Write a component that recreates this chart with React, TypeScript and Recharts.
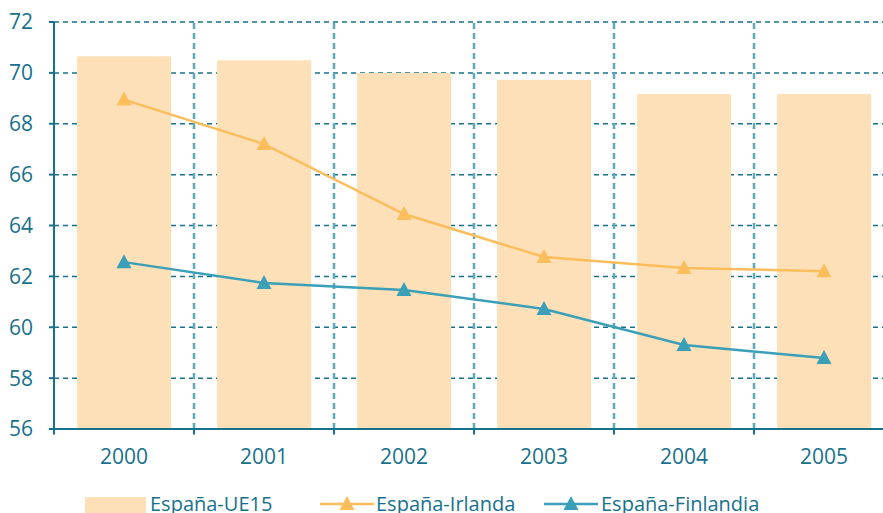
import React from "react";
import {
  ComposedChart,
  Bar,
  Line,
  XAxis,
  YAxis,
  CartesianGrid,
  ReferenceLine,
} from "recharts";

const years = ["2000", "2001", "2002", "2003", "2004", "2005"];
const ue15 = [70.65, 70.5, 70.0, 69.72, 69.17, 69.17];
const irlanda = [68.95, 67.2, 64.45, 62.76, 62.33, 62.2];
const finlandia = [62.56, 61.74, 61.46, 60.72, 59.3, 58.79];
const yTicks = [56, 58, 60, 62, 64, 66, 68, 70, 72];
// category edges where the dashed vertical grid and the small x ticks sit
const gridYears = ["2001", "2002", "2003", "2004", "2005"];

const TEAL_TEXT = "#17718c";
const BAR = "#fde0b7";
const ORANGE = "#fcbd5c";
const BLUE = "#3a9fb7";
const FONT = "'Open Sans', 'Noto Sans', sans-serif";

const data = years.map((year, i) => ({
  year,
  ue15: ue15[i],
  irlanda: irlanda[i],
  finlandia: finlandia[i],
}));

// triangle marker centred on the point
function triangle(color: string) {
  return (props: any) => {
    const { cx, cy, index } = props;
    if (cx == null || cy == null) return <g key={index} />;
    return (
      <path
        key={index}
        d={`M${cx},${cy - 8} L${cx + 7.5},${cy + 6} L${cx - 7.5},${cy + 6} Z`}
        fill={color}
      />
    );
  };
}

function LegendLine({ color, left }: { color: string; left: number }) {
  return (
    <svg width={54} height={20} style={{ position: "absolute", left, top: 3 }}>
      <line x1={0} y1={10} x2={54} y2={10} stroke={color} strokeWidth={2.5} />
      <path d="M27,2 L34.5,16 L19.5,16 Z" fill={color} />
    </svg>
  );
}

const legendText: React.CSSProperties = {
  position: "absolute",
  top: 0,
  fontSize: 20,
  lineHeight: "26px",
  color: TEAL_TEXT,
  whiteSpace: "nowrap",
};

export default function App() {
  return (
    <div
      style={{
        position: "absolute",
        left: 0,
        top: 0,
        width: 883,
        height: 513,
        overflow: "hidden",
        background: "#fff",
        fontFamily: FONT,
      }}
    >
      <ComposedChart
        width={900}
        height={513}
        data={data}
        margin={{ top: 22, right: 6, left: 0, bottom: 0 }}
        barCategoryGap="16.5%"
      >
        <CartesianGrid
          vertical={false}
          stroke={TEAL_TEXT}
          strokeWidth={1.5}
          strokeDasharray="5 4"
          yAxisId="y"
          xAxisId="cat"
        />
        <XAxis
          xAxisId="cat"
          dataKey="year"
          height={84}
          tickLine={false}
          tickSize={6}
          tickMargin={14}
          axisLine={{ stroke: TEAL_TEXT, strokeWidth: 2 }}
          tick={{ fill: TEAL_TEXT, fontSize: 21, fontFamily: FONT }}
        />
        <YAxis
          yAxisId="y"
          domain={[56, 72]}
          ticks={yTicks}
          width={54}
          allowDataOverflow
          tickSize={5}
          tickMargin={16}
          axisLine={{ stroke: TEAL_TEXT, strokeWidth: 2 }}
          tickLine={{ stroke: TEAL_TEXT, strokeWidth: 2 }}
          tick={{ fill: TEAL_TEXT, fontSize: 21, fontFamily: FONT }}
        />
        {gridYears.map((y) => (
          <ReferenceLine
            key={y}
            x={y}
            position="start"
            xAxisId="cat"
            yAxisId="y"
            stroke="#5fa9bd"
            strokeWidth={2.5}
            strokeDasharray="6 4"
          />
        ))}
        {["2000", ...gridYears].map((y) => (
          <ReferenceLine
            key={"t" + y}
            segment={[
              { x: y, y: 56 },
              { x: y, y: 55.78 },
            ]}
            position="start"
            ifOverflow="visible"
            xAxisId="cat"
            yAxisId="y"
            stroke={TEAL_TEXT}
            strokeWidth={2}
          />
        ))}
        <Bar
          dataKey="ue15"
          xAxisId="cat"
          yAxisId="y"
          fill={BAR}
          isAnimationActive={false}
        />
        <Line
          dataKey="irlanda"
          xAxisId="cat"
          yAxisId="y"
          stroke={ORANGE}
          strokeWidth={2.5}
          dot={triangle(ORANGE)}
          activeDot={false}
          isAnimationActive={false}
        />
        <Line
          dataKey="finlandia"
          xAxisId="cat"
          yAxisId="y"
          stroke={BLUE}
          strokeWidth={2.5}
          dot={triangle(BLUE)}
          activeDot={false}
          isAnimationActive={false}
        />
      </ComposedChart>
      <div style={{ position: "absolute", top: 491, left: 0, width: 883, height: 26 }}>
        <span
          style={{ position: "absolute", left: 85, top: 6, width: 61, height: 20, background: BAR }}
        />
        <span style={{ ...legendText, left: 150 }}>España-UE15</span>
        <LegendLine color={ORANGE} left={320} />
        <span style={{ ...legendText, left: 376 }}>España-Irlanda</span>
        <LegendLine color={BLUE} left={544} />
        <span style={{ ...legendText, left: 601 }}>España-Finlandia</span>
      </div>
    </div>
  );
}
